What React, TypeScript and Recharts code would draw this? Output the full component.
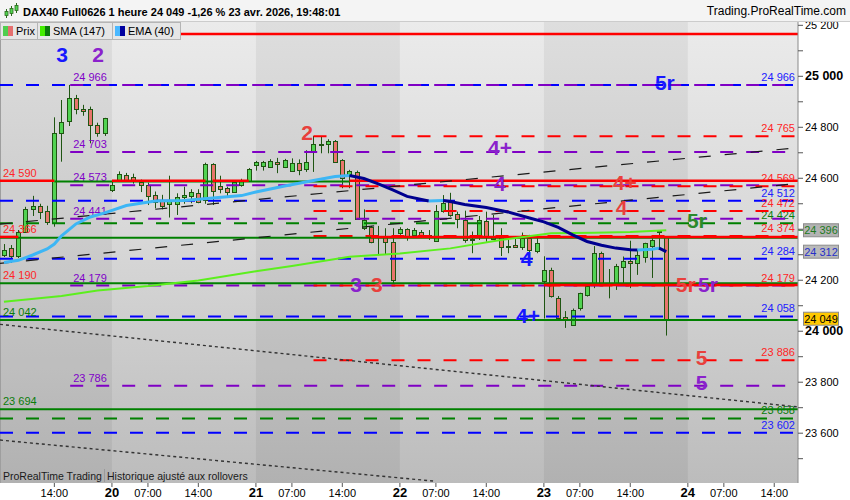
import React from 'react';
import { ComposedChart, Bar, Line, XAxis, YAxis, ReferenceLine, ReferenceArea, ReferenceDot } from 'recharts';

const FONT = '"Liberation Sans", Arial, Helvetica, sans-serif';

// ---------- axes domains (bar index / price) ----------
const X_MIN = -15.55;
const X_MAX = 95.3;
const Y_MIN = 23404.6;
const Y_MAX = 25213;
const FIRST_BAR = -15;

// ---------- time axis ----------
const X_TICKS = [-8, 0, 5, 12, 20, 25, 32, 40, 45, 52, 60, 65, 72, 80, 85, 92];
const X_TICK_LABELS = ['14:00', '20', '07:00', '14:00', '21', '07:00', '14:00', '22', '07:00', '14:00', '23', '07:00', '14:00', '24', '07:00', '14:00'];
const DAY_TICKS = [0, 20, 40, 60, 80];
const DARK_DAYS: [number, number][] = [[X_MIN, 0], [20, 40], [60, 80]];

// ---------- price axis ----------
const Y_TICKS = [23500, 23600, 23700, 23800, 23900, 24000, 24100, 24200, 24300, 24400, 24500, 24600, 24700, 24800, 24900, 25000, 25100, 25200];

// ---------- candles (1 hour) ----------
const opens = [
  24299, 24325, 24296, 24390, 24480, 24490, 24472, 24426, 24776, 24826, 24914, 24871, 24870, 24808, 24777,
  24554, 24595, 24614, 24604, 24586, 24575, 24535, 24515, 24498, 24500, 24526, 24532, 24541, 24515, 24656, 24571, 24561, 24548, 24575, 24591,
  24652, 24650, 24646, 24664, 24644, 24629, 24658, 24637, 24708, 24733, 24733, 24746, 24672, 24613, 24626, 24404, 24408, 24370, 24369, 24349,
  24387, 24400, 24376, 24388, 24370, 24354, 24472, 24508, 24459, 24436, 24356, 24374, 24432, 24361, 24374, 24332, 24338, 24329, 24365, 24316,
  24196, 24242, 24132, 24057, 24026, 24090, 24142, 24188, 24308, 24181, 24188, 24253, 24276, 24267, 24293, 24335, 24389, 24369,
];
const highs = [
  24342, 24338, 24397, 24488, 24531, 24500, 24492, 24839, 24907, 24966, 24927, 24888, 24881, 24818, 24837,
  24586, 24627, 24621, 24618, 24595, 24583, 24548, 24535, 24610, 24541, 24567, 24557, 24557, 24661, 24659, 24610, 24567, 24591, 24598, 24640,
  24668, 24668, 24675, 24680, 24676, 24678, 24674, 24710, 24766, 24763, 24753, 24750, 24675, 24633, 24630, 24478, 24413, 24413, 24404, 24404,
  24408, 24404, 24405, 24397, 24397, 24495, 24534, 24543, 24469, 24473, 24391, 24452, 24469, 24456, 24404, 24371, 24371, 24387, 24378, 24365,
  24294, 24249, 24138, 24079, 24089, 24151, 24188, 24334, 24312, 24244, 24264, 24293, 24355, 24319, 24347, 24365, 24395, 24371,
];
const lows = [
  24291, 24287, 24287, 24386, 24452, 24440, 24417, 24410, 24665, 24805, 24851, 24845, 24737, 24763, 24766,
  24546, 24586, 24586, 24579, 24546, 24495, 24482, 24478, 24446, 24456, 24500, 24502, 24502, 24500, 24495, 24541, 24530, 24544, 24567, 24587,
  24630, 24630, 24643, 24620, 24640, 24625, 24612, 24625, 24625, 24698, 24698, 24662, 24561, 24561, 24437, 24397, 24345, 24299, 24299, 24188,
  24378, 24355, 24366, 24371, 24358, 24351, 24465, 24449, 24404, 24347, 24306, 24358, 24351, 24358, 24295, 24306, 24327, 24319, 24306, 24306,
  24050, 24132, 24050, 24013, 24022, 24081, 24136, 24169, 24185, 24129, 24162, 24188, 24169, 24221, 24269, 24209, 24319, 23983,
];
const closes = [
  24319, 24296, 24388, 24478, 24492, 24469, 24430, 24776, 24822, 24914, 24871, 24863, 24809, 24776, 24835,
  24573, 24618, 24595, 24595, 24572, 24530, 24508, 24491, 24515, 24526, 24535, 24546, 24508, 24656, 24550, 24558, 24548, 24587, 24589, 24636,
  24662, 24664, 24668, 24655, 24673, 24658, 24632, 24662, 24734, 24736, 24748, 24665, 24600, 24629, 24440, 24436, 24351, 24373, 24349, 24201,
  24400, 24374, 24397, 24375, 24378, 24473, 24504, 24456, 24440, 24358, 24360, 24436, 24374, 24374, 24329, 24336, 24329, 24365, 24319, 24347,
  24242, 24138, 24053, 24046, 24085, 24149, 24177, 24308, 24188, 24189, 24256, 24276, 24267, 24299, 24345, 24358, 24393, 24049,
];

// ---------- indicators (values read at some bars) ----------
const smaReadings: [number, number][] = [
  [-15, 24116], [-7, 24138], [-2, 24160], [5, 24177], [12, 24199], [20, 24235], [25, 24256], [33, 24292],
  [40, 24305], [47, 24325], [54, 24358], [61, 24384], [67, 24386], [72, 24389], [77, 24396],
];
const emaReadings: [number, number][] = [
  [-15, 24270], [-13, 24278], [-11, 24299], [-9, 24323], [-8, 24342], [-7, 24374], [-5, 24421], [-3, 24448],
  [-1, 24464], [2, 24493], [6, 24511], [10, 24513], [14, 24523], [18, 24532], [20, 24546], [24, 24570],
  [28, 24591], [31, 24607], [33, 24611], [35, 24599], [37, 24578], [39, 24554], [41, 24529], [44, 24511],
  [45, 24512], [46, 24513], [47, 24509], [49, 24497], [52, 24485], [55, 24468], [58, 24444], [60, 24429],
  [62, 24407], [64, 24378], [66, 24352], [68, 24337], [70, 24326], [72, 24320], [73, 24319], [75, 24322],
  [76, 24326], [77, 24312],
];

// ---------- horizontal levels ----------
type Level = { p: number; from?: number; to?: number; left?: string; right?: string };
const redSolid: Level[] = [
  { p: 25166 },
  { p: 24590, from: X_MIN, to: -8, left: '24 590' },
  { p: 24590, from: 0, to: 13 },
  { p: 24590, from: 14, to: 19 },
  { p: 24590, from: 33 },
  { p: 24370, from: X_MIN, to: -13, left: '24 366' },
  { p: 24370, from: 36 },
  { p: 24181, from: 60 },
];
const greenSolid: Level[] = [
  { p: 24587, from: -8, to: 33 },
  { p: 24367 },
  { p: 24188, left: '24 190' },
  { p: 24044, left: '24 042' },
  { p: 23694, left: '23 694' },
];
const redDashed: Level[] = [
  { p: 24765, from: 28, right: '24 765' },
  { p: 24569, from: 28, right: '24 569' },
  { p: 24472, from: 28, right: '24 472' },
  { p: 24374, from: 28, right: '24 374' },
  { p: 24179, from: 28, right: '24 179' },
  { p: 23886, from: 28, right: '23 886' },
];
const purpleDashed: Level[] = [
  { p: 24966, from: -5.8, left: '24 966' },
  { p: 24703, from: -5.8, left: '24 703' },
  { p: 24573, from: -5.8, left: '24 573' },
  { p: 24441, from: -5.8, left: '24 441' },
  { p: 24179, from: -5.8, left: '24 179' },
  { p: 23786, from: -5.8, left: '23 786' },
];
const blueDashed: Level[] = [
  { p: 24966, right: '24 966' },
  { p: 24512, right: '24 512' },
  { p: 24284, right: '24 284' },
  { p: 24058, right: '24 058' },
  { p: 23602, right: '23 602' },
];
const greenDashed: Level[] = [
  { p: 24424, right: '24 424' },
  { p: 23658, right: '23 658' },
];

// trend lines [bar1, price1, bar2, price2]
const dashedTrends: [number, number, number, number][] = [
  [X_MIN, 24420, X_MAX, 24720],
  [X_MIN, 24266, X_MAX, 24580],
];
const dottedTrends: [number, number, number, number][] = [
  [X_MIN, 24027, X_MAX, 23703],
  [X_MIN, 23573, 44.7, 23412],
];

// wave labels [text, bar, price]
type Wave = [string, number, number];
const blueWaves: Wave[] = [['3', -6.94, 25084], ['5r', 76.8, 24974], ['4', 57.6, 24283], ['4+', 57.8, 24059]];
const redWaves: Wave[] = [['2', 27.1, 24778], ['4+', 71.25, 24582], ['4', 70.8, 24483], ['3', 36.8, 24181], ['5r', 79.7, 24181], ['5', 81.9, 23894]];
const purpleWaves: Wave[] = [['2', -1.94, 25084], ['4+', 53.9, 24719], ['4', 53.9, 24578], ['3', 33.9, 24181], ['5r', 82.8, 24181], ['5', 81.9, 23796]];
const greenWaves: Wave[] = [['5r', 81.25, 24432]];

// price tags on the axis
const tagValues = { sma: 24396, ema: 24312, last: 24049 };

// ---------- styles ----------
const C = {
  up: '#52d352',
  down: '#e8756c',
  wick: '#1f5512',
  sma: '#5cef1e',
  emaUp: '#3db6f5',
  emaDn: '#00008f',
  red: '#ff0000',
  green: '#008000',
  blue: '#0000ff',
  purple: '#7f00c4',
  redText: '#ff2626',
  greenText: '#0a7d0a',
  blueText: '#2020ff',
  purpleText: '#8000c8',
  waveRed: '#e8403c',
  wavePurple: '#8a22cc',
  waveBlue: '#1717ff',
  waveGreen: '#2b8a2b',
};

// ---------- build rows ----------
type Row = { [k: string]: any };
const rows: Row[] = opens.map((o, k) => ({
  i: FIRST_BAR + k,
  o,
  h: highs[k],
  l: lows[k],
  c: closes[k],
  hl: [lows[k], highs[k]],
}));
const rowAt = (i: number) => rows[i - FIRST_BAR];
smaReadings.forEach(([i, v]) => { rowAt(i).sma = v; });

type Seg = { key: string; up: boolean };
const emaSegs: Seg[] = [];
{
  let cur: Seg | null = null;
  for (let k = 1; k < emaReadings.length; k++) {
    const [i0, v0] = emaReadings[k - 1];
    const [i1, v1] = emaReadings[k];
    const up = v1 >= v0;
    if (!cur || cur.up !== up) {
      cur = { key: 'ema' + emaSegs.length, up };
      emaSegs.push(cur);
      rowAt(i0)[cur.key] = v0;
    }
    rowAt(i1)[cur.key] = v1;
  }
}

const fmt = (v: number) => `${Math.floor(v / 1000)} ${String(Math.round(v) % 1000).padStart(3, '0')}`;

// ---------- renderers ----------
const CandleShape = (props: any) => {
  const { x, y, width, height, payload } = props;
  if (!payload || !isFinite(x) || !isFinite(y) || !isFinite(height)) return null;
  const { o, h, l, c } = payload;
  const top = Math.min(y, y + height);
  const hh = Math.abs(height);
  const k = h === l ? 0 : hh / (h - l);
  const yo = top + (h - o) * k;
  const yc = top + (h - c) * k;
  const cx = Math.round(x + width / 2) + 0.5;
  const bt = Math.round(Math.min(yo, yc)) + 0.5;
  const bb = Math.round(Math.max(yo, yc)) + 0.5;
  return (
    <g>
      <line x1={cx} x2={cx} y1={top} y2={top + hh} stroke={C.wick} strokeWidth={1} />
      <rect x={cx - 2} y={bt} width={4} height={Math.max(bb - bt, 1)} fill={c >= o ? C.up : C.down} stroke={C.wick} strokeWidth={1} />
    </g>
  );
};

const makeLevelLabel = (lv: Level, color: string) => (props: any) => {
  const vb = props.viewBox;
  if (!vb) return null;
  return (
    <g>
      {lv.left ? (
        <text x={vb.x + 3} y={vb.y - 4} fill={color} fontSize={11} fontFamily={FONT}>{lv.left}</text>
      ) : null}
      {lv.right ? (
        <text x={vb.x + vb.width - 3} y={vb.y - 4} fill={color} fontSize={11} fontFamily={FONT} textAnchor="end">{lv.right}</text>
      ) : null}
    </g>
  );
};

const renderLevels = (levels: Level[], stroke: string, textColor: string, dashed: boolean, width: number, prefix: string, labelColors?: { [k: number]: string }) =>
  levels.map((lv, n) => {
    const a = lv.from ?? X_MIN;
    const b = lv.to ?? X_MAX;
    const col = labelColors && labelColors[lv.p] ? labelColors[lv.p] : textColor;
    return (
      <ReferenceLine
        key={prefix + n}
        segment={[{ x: a, y: lv.p }, { x: b, y: lv.p }]}
        stroke={stroke}
        strokeWidth={width}
        strokeDasharray={dashed ? '13 13' : undefined}
        ifOverflow="visible"
        label={makeLevelLabel(lv, col)}
      />
    );
  });

const makeWaveLabel = (t: string, color: string) => (props: any) => {
  const vb = props.viewBox;
  if (!vb) return null;
  return (
    <text x={vb.x + vb.width / 2} y={vb.y + vb.height / 2 + 7} fill={color} fontSize={21} fontWeight="bold" fontFamily={FONT} textAnchor="middle">{t}</text>
  );
};
const renderWaves = (waves: Wave[], color: string, prefix: string) =>
  waves.map(([t, i, p], n) => (
    <ReferenceDot key={prefix + n} x={i} y={p} r={1} fill="none" stroke="none" ifOverflow="visible" label={makeWaveLabel(t, color)} />
  ));

const makeTag = (text: string, bg: string, fg: string, tick?: string) => (props: any) => {
  const vb = props.viewBox;
  if (!vb) return null;
  const x0 = vb.x + vb.width;
  const yc = vb.y;
  return (
    <g>
      {tick ? <line x1={x0} x2={x0 + 5} y1={yc} y2={yc} stroke={tick} strokeWidth={1} /> : null}
      <rect x={x0 + 5.5} y={yc - 6.5} width={35} height={13} fill={bg} stroke="#8c8c8c" strokeWidth={1} />
      <text x={x0 + 23} y={yc + 4} fill={fg} fontSize={11} fontFamily={FONT} textAnchor="middle">{text}</text>
    </g>
  );
};

const XTick = (props: any) => {
  const { x, y, payload } = props;
  const v = payload.value;
  const idx = X_TICKS.indexOf(v);
  const isDay = DAY_TICKS.includes(v);
  return (
    <text x={x} y={y + 8} textAnchor="middle" fontSize={isDay ? 13 : 11} fontWeight={isDay ? 'bold' : 'normal'} fill="#000" fontFamily={FONT}>
      {X_TICK_LABELS[idx]}
    </text>
  );
};

const YTick = (props: any) => {
  const { x, y, payload } = props;
  const v = payload.value;
  if (v % 200 !== 0 || v === 24400) return <g />;
  const bold = v % 1000 === 0;
  return (
    <text x={x} y={y + 4} textAnchor="start" fontSize={bold ? 12.5 : 11} fontWeight={bold ? 'bold' : 'normal'} fill="#000" fontFamily={FONT}>
      {fmt(v)}
    </text>
  );
};

const HeaderIcon = () => (
  <svg width={16} height={18} style={{ position: 'absolute', left: 3, top: 2 }}>
    <line x1={3.5} x2={3.5} y1={7} y2={16} stroke="#2c6a1c" />
    <rect x={2} y={9.5} width={3} height={4} fill={C.up} stroke="#2c6a1c" strokeWidth={0.8} />
    <line x1={8.5} x2={8.5} y1={4} y2={14} stroke="#2c6a1c" />
    <rect x={7} y={6.5} width={3} height={5} fill={C.up} stroke="#2c6a1c" strokeWidth={0.8} />
    <line x1={13.5} x2={13.5} y1={1} y2={11} stroke="#2c6a1c" />
    <rect x={12} y={3.5} width={3} height={5} fill={C.up} stroke="#2c6a1c" strokeWidth={0.8} />
  </svg>
);

const LegendBox = ({ left, width, c1, c2, text }: { left: number; width: number; c1: string; c2: string; text: string }) => (
  <div style={{ position: 'absolute', left, top: 22, width, height: 18, boxSizing: 'border-box', border: '1px solid #b5b5b5', background: '#e6e6e6', fontSize: 11, lineHeight: '16px', fontFamily: FONT, color: '#000' }}>
    <span style={{ position: 'absolute', left: 2, top: 3, width: 5, height: 10, background: c1 }} />
    <span style={{ position: 'absolute', left: 7, top: 3, width: 5, height: 10, background: c2 }} />
    <span style={{ position: 'absolute', left: 15, top: 0, whiteSpace: 'nowrap' }}>{text}</span>
  </div>
);

export default function App() {
  return (
    <div style={{ position: 'absolute', left: 0, top: 0, width: 850, height: 500, overflow: 'hidden', background: '#ffffff', fontFamily: FONT }}>
      <style>{'body{margin:0}'}</style>
      {/* plot background */}
      <div style={{ position: 'absolute', left: 0, top: 22, width: 798, height: 461, background: 'linear-gradient(to bottom, #ebebeb 0%, #d6d6d6 50%, #bcbcbc 100%)', borderLeft: '1px solid #a8a8a8', boxSizing: 'border-box' }} />
      <div style={{ position: 'absolute', left: 0, top: 0 }}>
        <ComposedChart width={850} height={500} data={rows} margin={{ top: 22, right: 0, bottom: 0, left: 0 }}>
          <XAxis dataKey="i" type="number" domain={[X_MIN, X_MAX]} allowDataOverflow ticks={X_TICKS} interval={0} height={17} axisLine={false} tickLine={{ stroke: '#555' }} tickSize={4} tickMargin={2} tick={<XTick />} />
          <YAxis orientation="right" type="number" domain={[Y_MIN, Y_MAX]} allowDataOverflow ticks={Y_TICKS} interval={0} width={52} axisLine={{ stroke: '#8a8a8a' }} tickLine={{ stroke: '#555' }} tickSize={5} tickMargin={2} tick={<YTick />} />
          {DARK_DAYS.map(([a, b], n) => (
            <ReferenceArea key={'d' + n} x1={a} x2={b} fill="#000" fillOpacity={0.055} stroke="none" ifOverflow="visible" />
          ))}
          {renderLevels(greenDashed, C.green, C.greenText, true, 2, 'gd')}
          {renderLevels(blueDashed, C.blue, C.blueText, true, 2, 'bd')}
          {renderLevels(purpleDashed, C.purple, C.purpleText, true, 2, 'pd')}
          {renderLevels(redDashed, C.red, C.redText, true, 2, 'rd')}
          {renderLevels(greenSolid, C.green, C.greenText, false, 2, 'gs', { 24188: C.redText })}
          {renderLevels(redSolid, C.red, C.redText, false, 2.5, 'rs')}
          {dashedTrends.map(([a, p, b, q], n) => (
            <ReferenceLine key={'tr' + n} segment={[{ x: a, y: p }, { x: b, y: q }]} stroke="#1a1a1a" strokeWidth={1.2} strokeDasharray="12 14" ifOverflow="visible" />
          ))}
          {dottedTrends.map(([a, p, b, q], n) => (
            <ReferenceLine key={'dt' + n} segment={[{ x: a, y: p }, { x: b, y: q }]} stroke="#333" strokeWidth={1.4} strokeDasharray="3 3" ifOverflow="visible" />
          ))}
          <Line dataKey="sma" stroke={C.sma} strokeWidth={2} dot={false} activeDot={false} connectNulls isAnimationActive={false} />
          {emaSegs.map((s) => (
            <Line key={s.key} dataKey={s.key} stroke={s.up ? C.emaUp : C.emaDn} strokeWidth={3} dot={false} activeDot={false} connectNulls isAnimationActive={false} />
          ))}
          <Bar dataKey="hl" barSize={7} shape={<CandleShape />} isAnimationActive={false} />
          {renderWaves(blueWaves, C.waveBlue, 'wb')}
          {renderWaves(redWaves, C.waveRed, 'wr')}
          {renderWaves(purpleWaves, C.wavePurple, 'wp')}
          {renderWaves(greenWaves, C.waveGreen, 'wg')}
          <ReferenceLine y={tagValues.sma} stroke="none" ifOverflow="visible" label={makeTag(fmt(tagValues.sma), '#b3b3b3', '#1d7a1d', '#1d8a1d')} />
          <ReferenceLine y={tagValues.ema} stroke="none" ifOverflow="visible" label={makeTag(fmt(tagValues.ema), '#bababa', '#2630c8')} />
          <ReferenceLine y={tagValues.last} stroke="none" ifOverflow="visible" label={makeTag(fmt(tagValues.last), '#ffc800', '#000')} />
        </ComposedChart>
      </div>
      {/* header */}
      <div style={{ position: 'absolute', left: 0, top: 0, width: 850, height: 22, background: '#f4f4f4', borderBottom: '1px solid #cccccc', boxSizing: 'border-box' }}>
        <HeaderIcon />
        <div style={{ position: 'absolute', left: 23, top: 6, fontSize: 11, lineHeight: '12px', fontWeight: 'bold', whiteSpace: 'nowrap', color: '#000' }}>
          DAX40 Full0626 1 heure 24 049 -1,26 % 23 avr. 2026, 19:48:01
        </div>
        <div style={{ position: 'absolute', right: 4, top: 5, fontSize: 12, lineHeight: '13px', whiteSpace: 'nowrap', color: '#000' }}>
          Trading.ProRealTime.com
        </div>
      </div>
      <LegendBox left={0} width={38} c1="#4fce4f" c2="#e56f6f" text="Prix" />
      <LegendBox left={37} width={76} c1="#44ee00" c2="#0a7a0a" text="SMA (147)" />
      <LegendBox left={112} width={69} c1="#4ab8ff" c2="#0000a0" text="EMA (40)" />
      {/* footer text */}
      <div style={{ position: 'absolute', left: 3, top: 470, fontSize: 10.5, lineHeight: '12px', whiteSpace: 'nowrap', color: '#1a1a1a' }}>
        ProRealTime Trading
      </div>
      <div style={{ position: 'absolute', left: 104, top: 469, width: 1, height: 13, background: '#9a9a9a' }} />
      <div style={{ position: 'absolute', left: 107, top: 470, fontSize: 10.5, lineHeight: '12px', whiteSpace: 'nowrap', color: '#1a1a1a' }}>
        Historique ajusté aux rollovers
      </div>
    </div>
  );
}
